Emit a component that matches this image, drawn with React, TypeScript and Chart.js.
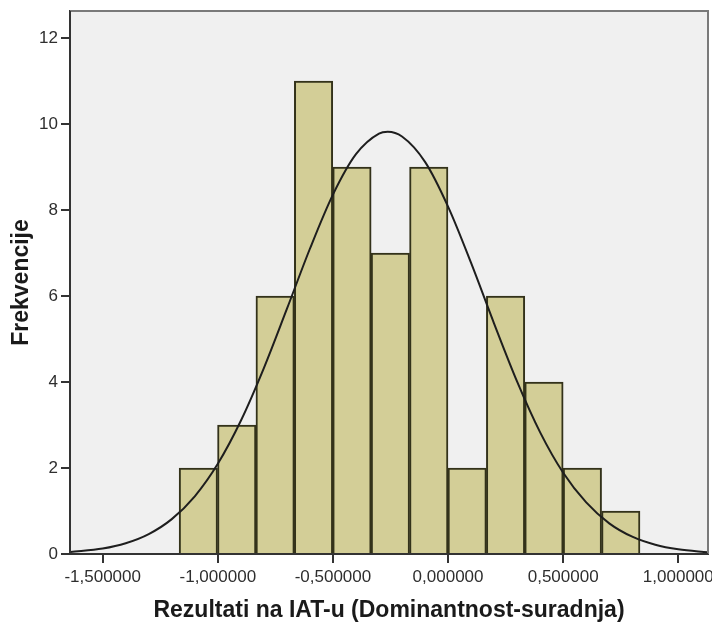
import React, { useEffect, useRef } from "react";
import { Chart, registerables } from "chart.js";

Chart.register(...registerables);

// Histogram bins (centres) and frequencies
const binCenters = [-1.0846, -0.9178, -0.751, -0.5842, -0.4174, -0.2506, -0.0838, 0.083, 0.2498, 0.4166, 0.5834, 0.7502];
const frequencies = [2, 3, 6, 11, 9, 7, 9, 2, 6, 4, 2, 1];

// Normal curve
const curveX = [-1.64, -1.5, -1.4, -1.3, -1.2, -1.1, -1.0, -0.9, -0.8, -0.7, -0.6, -0.5, -0.4, -0.3, -0.262, -0.2, -0.1, 0.0, 0.1, 0.2, 0.3, 0.4, 0.5, 0.6, 0.7, 0.8, 0.9, 1.0, 1.13];
const curveY = [0.045, 0.127, 0.25, 0.463, 0.811, 1.342, 2.098, 3.098, 4.324, 5.7, 7.1, 8.36, 9.3, 9.78, 9.82, 9.71, 9.12, 8.08, 6.77, 5.36, 4.01, 2.83, 1.89, 1.2, 0.713, 0.402, 0.214, 0.108, 0.04];

const xTickValues = [-1.5, -1.0, -0.5, 0.0, 0.5, 1.0];
const yTickValues = [0, 2, 4, 6, 8, 10, 12];
const xRange = [-1.642, 1.129];
const yRange = [0, 12.63];

const xTitle = "Rezultati na IAT-u (Dominantnost-suradnja)";
const yTitle = "Frekvencije";

const plotBackground = {
  id: "plotBackground",
  beforeDraw(chart: any) {
    const { ctx, chartArea } = chart;
    ctx.save();
    ctx.fillStyle = "#f0f0f0";
    ctx.fillRect(chartArea.left, chartArea.top, chartArea.right - chartArea.left, chartArea.bottom - chartArea.top);
    ctx.restore();
  },
  afterDraw(chart: any) {
    const { ctx, chartArea } = chart;
    ctx.save();
    ctx.strokeStyle = "#7a7a7a";
    ctx.lineWidth = 2;
    ctx.beginPath();
    ctx.moveTo(chartArea.left, chartArea.top);
    ctx.lineTo(chartArea.right, chartArea.top);
    ctx.lineTo(chartArea.right, chartArea.bottom);
    ctx.stroke();
    ctx.strokeStyle = "#333333";
    ctx.beginPath();
    ctx.moveTo(chartArea.left, chartArea.top);
    ctx.lineTo(chartArea.left, chartArea.bottom);
    ctx.lineTo(chartArea.right, chartArea.bottom);
    ctx.stroke();
    ctx.restore();
  },
};

export default function App() {
  const ref = useRef<HTMLCanvasElement>(null);

  useEffect(() => {
    if (!ref.current) return;
    const chart = new Chart(ref.current, {
      type: "bar",
      data: {
        datasets: [
          {
            type: "line",
            data: curveX.map((x, i) => ({ x, y: curveY[i] })),
            borderColor: "#1e1e1e",
            borderWidth: 2,
            pointRadius: 0,
            cubicInterpolationMode: "monotone",
            fill: false,
            order: 0,
          } as any,
          {
            type: "bar",
            data: binCenters.map((x, i) => ({ x, y: frequencies[i] })),
            backgroundColor: "#d3ce97",
            borderColor: "#33321a",
            borderWidth: 2,
            barPercentage: 1,
            categoryPercentage: 1,
            grouped: false,
            order: 1,
          } as any,
        ],
      },
      options: {
        responsive: false,
        animation: false,
        layout: { padding: { top: 11, right: 4, left: 0, bottom: 0 } },
        plugins: { legend: { display: false }, tooltip: { enabled: false } },
        scales: {
          x: {
            type: "linear",
            min: xRange[0],
            max: xRange[1],
            offset: false,
            grid: { drawOnChartArea: false, drawTicks: true, tickLength: 9, color: "#333", offset: false, lineWidth: 2 },
            border: { display: true, color: "#333", width: 2 },
            afterBuildTicks: (scale: any) => {
              scale.ticks = xTickValues.map((v) => ({ value: v }));
            },
            afterFit: (scale: any) => {
              scale.height = 70;
              scale.paddingLeft = 0;
              scale.paddingRight = 0;
            },
            ticks: {
              autoSkip: false,
              maxRotation: 0,
              padding: 4,
              color: "#2e2e2e",
              font: { family: "'Liberation Sans', Arial, sans-serif", size: 17 },
              callback: (v: any) => Number(v).toFixed(6).replace(".", ","),
            },
            title: {
              display: true,
              text: xTitle,
              color: "#1a1a1a",
              padding: { top: 0, bottom: 0 },
              font: { family: "'Liberation Sans', Arial, sans-serif", size: 23, weight: "bold" },
            },
          },
          y: {
            type: "linear",
            min: yRange[0],
            max: yRange[1],
            grid: { drawOnChartArea: false, drawTicks: true, tickLength: 9, color: "#333", lineWidth: 2 },
            border: { display: true, color: "#333", width: 2 },
            afterBuildTicks: (scale: any) => {
              scale.ticks = yTickValues.map((v) => ({ value: v }));
            },
            afterFit: (scale: any) => {
              scale.width = 70;
              scale.paddingTop = 0;
              scale.paddingBottom = 0;
            },
            ticks: {
              autoSkip: false,
              padding: 3,
              color: "#2e2e2e",
              font: { family: "'Liberation Sans', Arial, sans-serif", size: 17 },
              callback: (v: any) => String(v),
            },
            title: {
              display: true,
              text: yTitle,
              color: "#1a1a1a",
              padding: { top: 8, bottom: 0 },
              font: { family: "'Liberation Sans', Arial, sans-serif", size: 23, weight: "bold" },
            },
          },
        },
      },
      plugins: [plotBackground],
    } as any);
    return () => chart.destroy();
  }, []);

  return (
    <div style={{ position: "absolute", left: 0, top: 0, width: 712, height: 624, background: "#fff" }}>
      <canvas ref={ref} width={712} height={624} style={{ width: 712, height: 624, display: "block" }} />
    </div>
  );
}
